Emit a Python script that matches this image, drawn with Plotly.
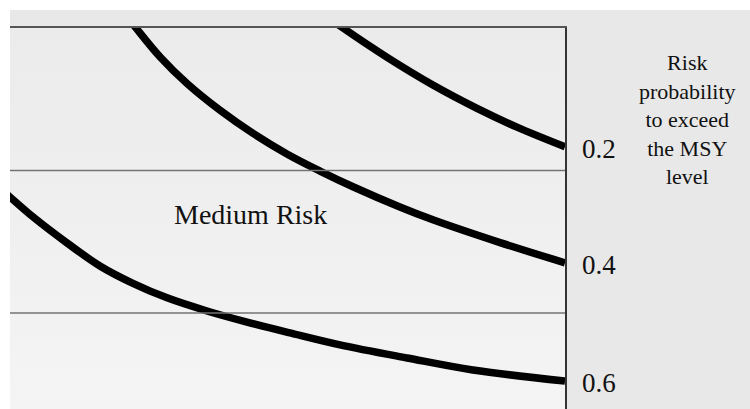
import plotly.graph_objects as go

# ---- data ----
labels = ["0.2", "0.4", "0.6"]

x_02 = [1.117, 1.200, 1.359, 1.524, 1.683, 1.827, 2.000]
y_02 = [2.058, 2.000, 1.897, 1.800, 1.718, 1.652, 1.583]

x_04 = [0.414, 0.454, 0.541, 0.638, 0.757, 0.876, 0.998, 1.117, 1.236, 1.405, 1.524, 1.766, 2.000]
y_04 = [2.050, 2.000, 1.898, 1.805, 1.711, 1.630, 1.558, 1.498, 1.443, 1.372, 1.327, 1.247, 1.176]

x_06 = [-0.072, 0.000, 0.083, 0.205, 0.324, 0.443, 0.566, 0.710, 0.854, 1.009, 1.189, 1.431, 1.668, 2.000]
y_06 = [1.470, 1.407, 1.337, 1.246, 1.165, 1.104, 1.053, 1.007, 0.968, 0.930, 0.888, 0.842, 0.800, 0.761]

zone_bounds = [1.0, 1.5]
zone_label = "Medium Risk"
side_title = "Risk<br>probability<br>to exceed<br>the MSY<br>level"

x_range = [0.0, 2.0]
y_range = [0.663, 2.0]

FONT = "Liberation Serif, Times New Roman, serif"

fig = go.Figure()

# background gradient of plot area
fig.add_trace(go.Scatter(
    x=[x_range[0], x_range[1], x_range[1], x_range[0], x_range[0]],
    y=[y_range[0], y_range[0], y_range[1], y_range[1], y_range[0]],
    mode="lines", line=dict(width=0), fill="toself",
    fillgradient=dict(type="vertical",
                      colorscale=[[0, "#f4f4f4"], [1, "#ebebeb"]]),
    hoverinfo="skip", showlegend=False,
))

for xs, ys in [(x_02, y_02), (x_04, y_04), (x_06, y_06)]:
    fig.add_trace(go.Scatter(
        x=xs, y=ys, mode="lines",
        line=dict(color="black", width=7.5, shape="spline", smoothing=1.0),
        showlegend=False, hoverinfo="skip",
    ))

shapes = [
    # outer gray panel (white strip left & top remains)
    dict(type="rect", xref="paper", yref="paper", x0=0, x1=1.4,
         y0=-0.05, y1=1 + 18 / 381, fillcolor="#e8e8e8",
         line=dict(width=0), layer="below"),
]
for b in zone_bounds:
    shapes.append(dict(type="line", xref="paper", yref="y", x0=0, x1=1,
                       y0=b, y1=b, line=dict(color="#737373", width=1.5),
                       layer="above"))
fig.update_layout(shapes=shapes)

annotations = []
for lab, ys in zip(labels, [y_02, y_04, y_06]):
    annotations.append(dict(
        x=x_range[1], y=ys[-1], xref="x", yref="y", text=lab,
        showarrow=False, xanchor="left", yanchor="middle", xshift=15, yshift=-2,
        font=dict(family=FONT, size=27, color="#111111"),
    ))
annotations.append(dict(
    x=0.865, y=1.347, xref="x", yref="y", text=zone_label, showarrow=False,
    xanchor="center", yanchor="middle",
    font=dict(family=FONT, size=28, color="#111111"),
))
annotations.append(dict(
    x=(687 - 10) / 555, y=(409 - 119) / 381, xref="paper", yref="paper",
    text=side_title, showarrow=False, xanchor="center", yanchor="middle",
    font=dict(family=FONT, size=22, color="#111111"),
))

fig.update_layout(
    width=750, height=409,
    margin=dict(l=10, r=185, t=28, b=0, pad=0),
    paper_bgcolor="white", plot_bgcolor="rgba(0,0,0,0)",
    annotations=annotations,
    xaxis=dict(range=x_range, side="top", showline=True, linecolor="#555555",
               linewidth=2, showgrid=False, zeroline=False,
               showticklabels=False, ticks=""),
    yaxis=dict(range=y_range, side="right", showline=True, linecolor="#333333",
               linewidth=1.5, showgrid=False, zeroline=False,
               showticklabels=False, ticks=""),
)

fig.write_html("out.html", post_script="document.body.style.margin='0px';",
               config={"displayModeBar": False})
